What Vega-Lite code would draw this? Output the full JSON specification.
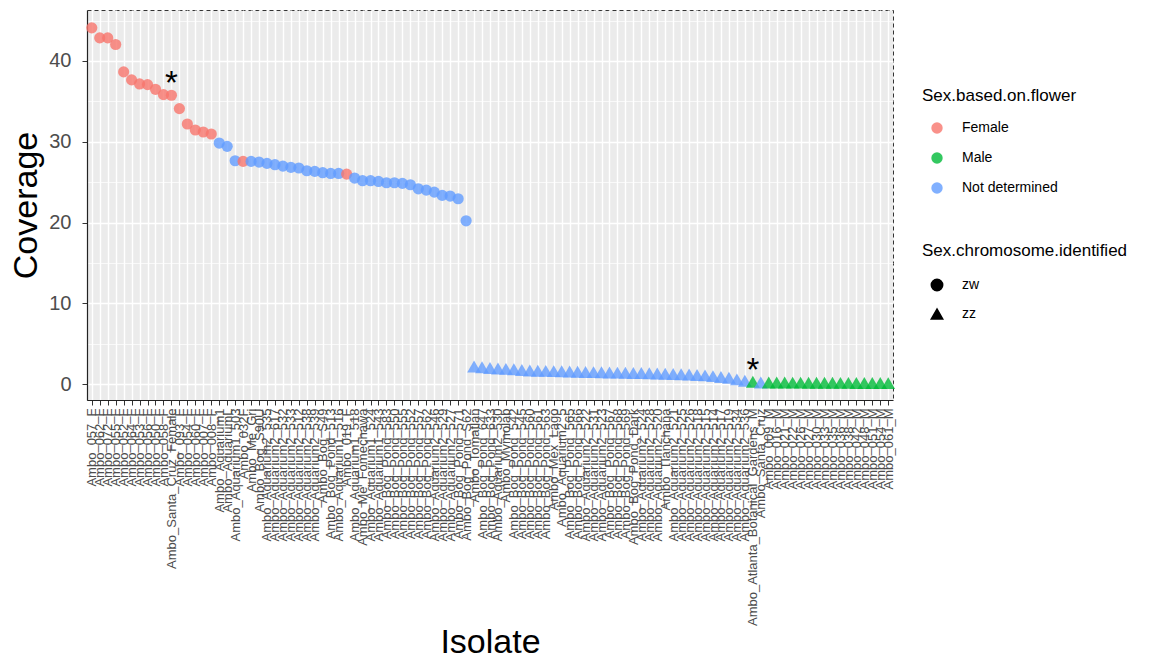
{
  "$schema": "https://vega.github.io/schema/vega-lite/v6.json",
  "autosize": {"type": "none"},
  "width": 806,
  "height": 390,
  "padding": {"left": 87, "top": 10, "right": 266, "bottom": 260},
  "background": "white",
  "config": {
    "font": "Liberation Sans",
    "view": {"fill": "#EBEBEB", "stroke": "#333333", "strokeDash": [4, 3], "strokeWidth": 1}
  },
  "data": {"values": [
    {"Isolate": "Ambo_057_F", "Coverage": 44.09, "sex": "Female", "chrom": "zw", "note": ""},
    {"Isolate": "Ambo_062_F", "Coverage": 42.85, "sex": "Female", "chrom": "zw", "note": ""},
    {"Isolate": "Ambo_072_F", "Coverage": 42.85, "sex": "Female", "chrom": "zw", "note": ""},
    {"Isolate": "Ambo_055_F", "Coverage": 42.03, "sex": "Female", "chrom": "zw", "note": ""},
    {"Isolate": "Ambo_052_F", "Coverage": 38.64, "sex": "Female", "chrom": "zw", "note": ""},
    {"Isolate": "Ambo_064_F", "Coverage": 37.65, "sex": "Female", "chrom": "zw", "note": ""},
    {"Isolate": "Ambo_053_F", "Coverage": 37.15, "sex": "Female", "chrom": "zw", "note": ""},
    {"Isolate": "Ambo_056_F", "Coverage": 37.07, "sex": "Female", "chrom": "zw", "note": ""},
    {"Isolate": "Ambo_050_F", "Coverage": 36.49, "sex": "Female", "chrom": "zw", "note": ""},
    {"Isolate": "Ambo_058_F", "Coverage": 35.83, "sex": "Female", "chrom": "zw", "note": ""},
    {"Isolate": "Ambo_Santa_Cruz_Female", "Coverage": 35.75, "sex": "Female", "chrom": "zw", "note": "*"},
    {"Isolate": "Ambo_093_F", "Coverage": 34.10, "sex": "Female", "chrom": "zw", "note": ""},
    {"Isolate": "Ambo_054_F", "Coverage": 32.20, "sex": "Female", "chrom": "zw", "note": ""},
    {"Isolate": "Ambo_060_F", "Coverage": 31.45, "sex": "Female", "chrom": "zw", "note": ""},
    {"Isolate": "Ambo_007_F", "Coverage": 31.21, "sex": "Female", "chrom": "zw", "note": ""},
    {"Isolate": "Ambo_008_F", "Coverage": 30.96, "sex": "Female", "chrom": "zw", "note": ""},
    {"Isolate": "Ambo_Aquarium1", "Coverage": 29.84, "sex": "Not determined", "chrom": "zw", "note": ""},
    {"Isolate": "Ambo_AquariumL", "Coverage": 29.43, "sex": "Not determined", "chrom": "zw", "note": ""},
    {"Isolate": "Ambo_Aquarium1_503", "Coverage": 27.65, "sex": "Not determined", "chrom": "zw", "note": ""},
    {"Isolate": "Ambo_032F", "Coverage": 27.57, "sex": "Female", "chrom": "zw", "note": ""},
    {"Isolate": "Ambo_Me_Gri", "Coverage": 27.57, "sex": "Not determined", "chrom": "zw", "note": ""},
    {"Isolate": "Ambo_Bog_S90U", "Coverage": 27.49, "sex": "Not determined", "chrom": "zw", "note": ""},
    {"Isolate": "Ambo_Aquarium2_535", "Coverage": 27.32, "sex": "Not determined", "chrom": "zw", "note": ""},
    {"Isolate": "Ambo_Aquarium2_617", "Coverage": 27.16, "sex": "Not determined", "chrom": "zw", "note": ""},
    {"Isolate": "Ambo_Aquarium2_532", "Coverage": 26.99, "sex": "Not determined", "chrom": "zw", "note": ""},
    {"Isolate": "Ambo_Aquarium2_533", "Coverage": 26.83, "sex": "Not determined", "chrom": "zw", "note": ""},
    {"Isolate": "Ambo_Aquarium2_512", "Coverage": 26.75, "sex": "Not determined", "chrom": "zw", "note": ""},
    {"Isolate": "Ambo_Aquarium2_538", "Coverage": 26.41, "sex": "Not determined", "chrom": "zw", "note": ""},
    {"Isolate": "Ambo_Aquarium2_539", "Coverage": 26.33, "sex": "Not determined", "chrom": "zw", "note": ""},
    {"Isolate": "Ambo_Bog_S49", "Coverage": 26.17, "sex": "Not determined", "chrom": "zw", "note": ""},
    {"Isolate": "Ambo_Bog_Pond_513", "Coverage": 26.08, "sex": "Not determined", "chrom": "zw", "note": ""},
    {"Isolate": "Ambo_Aquarium1_516", "Coverage": 26.08, "sex": "Not determined", "chrom": "zw", "note": ""},
    {"Isolate": "Ambo_019_F", "Coverage": 26.00, "sex": "Female", "chrom": "zw", "note": ""},
    {"Isolate": "Ambo_Aquarium1_518", "Coverage": 25.51, "sex": "Not determined", "chrom": "zw", "note": ""},
    {"Isolate": "Ambo_Me_Fomechawa", "Coverage": 25.18, "sex": "Not determined", "chrom": "zw", "note": ""},
    {"Isolate": "Ambo_Aquarium1_524", "Coverage": 25.18, "sex": "Not determined", "chrom": "zw", "note": ""},
    {"Isolate": "Ambo_Aquarium1_543", "Coverage": 25.09, "sex": "Not determined", "chrom": "zw", "note": ""},
    {"Isolate": "Ambo_Bog_Pond_583", "Coverage": 24.93, "sex": "Not determined", "chrom": "zw", "note": ""},
    {"Isolate": "Ambo_Bog_Pond_550", "Coverage": 24.93, "sex": "Not determined", "chrom": "zw", "note": ""},
    {"Isolate": "Ambo_Bog_Pond_555", "Coverage": 24.85, "sex": "Not determined", "chrom": "zw", "note": ""},
    {"Isolate": "Ambo_Bog_Pond_552", "Coverage": 24.68, "sex": "Not determined", "chrom": "zw", "note": ""},
    {"Isolate": "Ambo_Bog_Pond_557", "Coverage": 24.18, "sex": "Not determined", "chrom": "zw", "note": ""},
    {"Isolate": "Ambo_Bog_Pond_562", "Coverage": 24.02, "sex": "Not determined", "chrom": "zw", "note": ""},
    {"Isolate": "Ambo_Aquarium2_546", "Coverage": 23.77, "sex": "Not determined", "chrom": "zw", "note": ""},
    {"Isolate": "Ambo_Aquarium2_529", "Coverage": 23.36, "sex": "Not determined", "chrom": "zw", "note": ""},
    {"Isolate": "Ambo_Aquarium2_527", "Coverage": 23.28, "sex": "Not determined", "chrom": "zw", "note": ""},
    {"Isolate": "Ambo_Bog_Pond_571", "Coverage": 22.95, "sex": "Not determined", "chrom": "zw", "note": ""},
    {"Isolate": "Ambo_Bog_Pond_S62", "Coverage": 20.22, "sex": "Not determined", "chrom": "zw", "note": ""},
    {"Isolate": "Ambo_Tomatlan", "Coverage": 2.20, "sex": "Not determined", "chrom": "zz", "note": ""},
    {"Isolate": "Ambo_Bog_Pond_647", "Coverage": 2.10, "sex": "Not determined", "chrom": "zz", "note": ""},
    {"Isolate": "Ambo_Bog_Pond_633", "Coverage": 2.00, "sex": "Not determined", "chrom": "zz", "note": ""},
    {"Isolate": "Ambo_Aquarium2_530", "Coverage": 1.95, "sex": "Not determined", "chrom": "zz", "note": ""},
    {"Isolate": "Ambo_Mymolab", "Coverage": 1.90, "sex": "Not determined", "chrom": "zz", "note": ""},
    {"Isolate": "Ambo_Bog_Pond_542", "Coverage": 1.85, "sex": "Not determined", "chrom": "zz", "note": ""},
    {"Isolate": "Ambo_Bog_Pond_545", "Coverage": 1.75, "sex": "Not determined", "chrom": "zz", "note": ""},
    {"Isolate": "Ambo_Bog_Pond_560", "Coverage": 1.70, "sex": "Not determined", "chrom": "zz", "note": ""},
    {"Isolate": "Ambo_Bog_Pond_561", "Coverage": 1.68, "sex": "Not determined", "chrom": "zz", "note": ""},
    {"Isolate": "Ambo_Bog_Pond_563", "Coverage": 1.65, "sex": "Not determined", "chrom": "zz", "note": ""},
    {"Isolate": "Ambo_Mex_Lago", "Coverage": 1.62, "sex": "Not determined", "chrom": "zz", "note": ""},
    {"Isolate": "Ambo_Aquarium2_5", "Coverage": 1.60, "sex": "Not determined", "chrom": "zz", "note": ""},
    {"Isolate": "Ambo_Bog_Pond_565", "Coverage": 1.58, "sex": "Not determined", "chrom": "zz", "note": ""},
    {"Isolate": "Ambo_Bog_Pond_566", "Coverage": 1.55, "sex": "Not determined", "chrom": "zz", "note": ""},
    {"Isolate": "Ambo_Aquarium2_522", "Coverage": 1.52, "sex": "Not determined", "chrom": "zz", "note": ""},
    {"Isolate": "Ambo_Aquarium2_531", "Coverage": 1.50, "sex": "Not determined", "chrom": "zz", "note": ""},
    {"Isolate": "Ambo_Aquarium2_523", "Coverage": 1.48, "sex": "Not determined", "chrom": "zz", "note": ""},
    {"Isolate": "Ambo_Bog_Pond_567", "Coverage": 1.46, "sex": "Not determined", "chrom": "zz", "note": ""},
    {"Isolate": "Ambo_Bog_Pond_568", "Coverage": 1.44, "sex": "Not determined", "chrom": "zz", "note": ""},
    {"Isolate": "Ambo_Bog_Pond_569", "Coverage": 1.42, "sex": "Not determined", "chrom": "zz", "note": ""},
    {"Isolate": "Ambo_Bog_Pond_Dark", "Coverage": 1.40, "sex": "Not determined", "chrom": "zz", "note": ""},
    {"Isolate": "Ambo_Aquarium2_524", "Coverage": 1.38, "sex": "Not determined", "chrom": "zz", "note": ""},
    {"Isolate": "Ambo_Aquarium2_528", "Coverage": 1.35, "sex": "Not determined", "chrom": "zz", "note": ""},
    {"Isolate": "Ambo_Aquarium2_520", "Coverage": 1.32, "sex": "Not determined", "chrom": "zz", "note": ""},
    {"Isolate": "Ambo_Tlanchana", "Coverage": 1.30, "sex": "Not determined", "chrom": "zz", "note": ""},
    {"Isolate": "Ambo_Aquarium2_521", "Coverage": 1.27, "sex": "Not determined", "chrom": "zz", "note": ""},
    {"Isolate": "Ambo_Aquarium2_525", "Coverage": 1.24, "sex": "Not determined", "chrom": "zz", "note": ""},
    {"Isolate": "Ambo_Aquarium2_526", "Coverage": 1.20, "sex": "Not determined", "chrom": "zz", "note": ""},
    {"Isolate": "Ambo_Aquarium2_518", "Coverage": 1.15, "sex": "Not determined", "chrom": "zz", "note": ""},
    {"Isolate": "Ambo_Aquarium2_515", "Coverage": 1.10, "sex": "Not determined", "chrom": "zz", "note": ""},
    {"Isolate": "Ambo_Aquarium2_514", "Coverage": 1.00, "sex": "Not determined", "chrom": "zz", "note": ""},
    {"Isolate": "Ambo_Aquarium2_517", "Coverage": 0.90, "sex": "Not determined", "chrom": "zz", "note": ""},
    {"Isolate": "Ambo_Aquarium2_519", "Coverage": 0.80, "sex": "Not determined", "chrom": "zz", "note": ""},
    {"Isolate": "Ambo_Aquarium2_534", "Coverage": 0.60, "sex": "Not determined", "chrom": "zz", "note": ""},
    {"Isolate": "Ambo_Aquarium2_536", "Coverage": 0.42, "sex": "Not determined", "chrom": "zz", "note": ""},
    {"Isolate": "Ambo_Atlanta_Botanical_Gardens_M", "Coverage": 0.30, "sex": "Male", "chrom": "zz", "note": "*"},
    {"Isolate": "Ambo_Santa_Cruz", "Coverage": 0.22, "sex": "Not determined", "chrom": "zz", "note": ""},
    {"Isolate": "Ambo_009_M", "Coverage": 0.22, "sex": "Male", "chrom": "zz", "note": ""},
    {"Isolate": "Ambo_016_M", "Coverage": 0.21, "sex": "Male", "chrom": "zz", "note": ""},
    {"Isolate": "Ambo_021_M", "Coverage": 0.21, "sex": "Male", "chrom": "zz", "note": ""},
    {"Isolate": "Ambo_022_M", "Coverage": 0.20, "sex": "Male", "chrom": "zz", "note": ""},
    {"Isolate": "Ambo_026_M", "Coverage": 0.20, "sex": "Male", "chrom": "zz", "note": ""},
    {"Isolate": "Ambo_027_M", "Coverage": 0.19, "sex": "Male", "chrom": "zz", "note": ""},
    {"Isolate": "Ambo_030_M", "Coverage": 0.19, "sex": "Male", "chrom": "zz", "note": ""},
    {"Isolate": "Ambo_033_M", "Coverage": 0.18, "sex": "Male", "chrom": "zz", "note": ""},
    {"Isolate": "Ambo_035_M", "Coverage": 0.18, "sex": "Male", "chrom": "zz", "note": ""},
    {"Isolate": "Ambo_036_M", "Coverage": 0.17, "sex": "Male", "chrom": "zz", "note": ""},
    {"Isolate": "Ambo_038_M", "Coverage": 0.17, "sex": "Male", "chrom": "zz", "note": ""},
    {"Isolate": "Ambo_042_M", "Coverage": 0.16, "sex": "Male", "chrom": "zz", "note": ""},
    {"Isolate": "Ambo_048_M", "Coverage": 0.16, "sex": "Male", "chrom": "zz", "note": ""},
    {"Isolate": "Ambo_051_M", "Coverage": 0.15, "sex": "Male", "chrom": "zz", "note": ""},
    {"Isolate": "Ambo_054_M", "Coverage": 0.15, "sex": "Male", "chrom": "zz", "note": ""},
    {"Isolate": "Ambo_061_M", "Coverage": 0.14, "sex": "Male", "chrom": "zz", "note": ""}
  ]},
  "encoding": {
    "x": {
      "field": "Isolate", "type": "nominal", "sort": null,
      "scale": {"type": "point", "padding": 0.6},
      "axis": {
        "title": "Isolate", "titleFontSize": 34, "titleFontWeight": "normal", "titleColor": "#000000",
        "titleBaseline": "alphabetic", "titleY": 252,
        "labelAngle": -90, "labelFontSize": 13, "labelColor": "#4D4D4D", "labelPadding": 3, "labelOverlap": false,
        "labelBound": false, "labelFlush": false, "labelLimit": 400,
        "ticks": true, "tickSize": 5, "tickColor": "#333333", "tickWidth": 1,
        "domain": true, "domainColor": "#222222", "domainWidth": 1.2,
        "grid": true, "gridColor": "#FFFFFF", "gridWidth": 1.4
      }
    },
    "y": {
      "field": "Coverage", "type": "quantitative",
      "scale": {"domain": [-1.95, 46.3], "nice": false, "zero": false},
      "axis": {
        "title": "Coverage", "titleFontSize": 34, "titleFontWeight": "normal", "titleColor": "#000000",
        "titleBaseline": "alphabetic", "titleX": -51,
        "values": [0, 5, 10, 15, 20, 25, 30, 35, 40, 45],
        "labelExpr": "datum.value % 10 === 0 ? datum.label : ''",
        "labelFontSize": 20, "labelColor": "#4D4D4D", "labelPadding": 11,
        "tickSize": 5, "tickColor": "#333333", "tickWidth": 1,
        "tickOpacity": {"condition": {"test": "datum.value % 10 === 0", "value": 1}, "value": 0},
        "domain": true, "domainColor": "#222222", "domainWidth": 1.2,
        "grid": true, "gridColor": "#FFFFFF",
        "gridWidth": {"condition": {"test": "datum.value % 10 === 0", "value": 1.4}, "value": 0.7}
      }
    }
  },
  "layer": [
    {
      "mark": {"type": "point", "filled": true, "opacity": 0.8},
      "encoding": {
        "color": {
          "field": "sex", "type": "nominal",
          "scale": {"domain": ["Female", "Male", "Not determined"], "range": ["#F8766D", "#00BA38", "#619CFF"]},
          "legend": {
            "title": "Sex.based.on.flower", "orient": "none", "legendX": 835, "legendY": 78,
            "titleFontSize": 17, "titleFontWeight": "normal", "titleColor": "#000000", "titlePadding": 16, "titleLimit": 400,
            "labelFontSize": 14, "labelColor": "#000000", "labelOffset": 18, "labelLimit": 300,
            "symbolType": "circle", "symbolSize": 130, "symbolOpacity": 0.8, "symbolOffset": 8,
            "rowPadding": 16, "padding": 0
          }
        },
        "shape": {
          "field": "chrom", "type": "nominal",
          "scale": {"domain": ["zw", "zz"], "range": ["circle", "triangle-up"]},
          "legend": {
            "title": "Sex.chromosome.identified", "orient": "none", "legendX": 835, "legendY": 233,
            "titleFontSize": 17, "titleFontWeight": "normal", "titleColor": "#000000", "titlePadding": 18, "titleLimit": 400,
            "labelFontSize": 14, "labelColor": "#000000", "labelOffset": 18, "labelLimit": 300,
            "symbolSize": 130, "symbolFillColor": "#000000", "symbolStrokeColor": "#000000", "symbolOpacity": 1, "symbolOffset": 8,
            "rowPadding": 12, "padding": 0
          }
        },
        "size": {"condition": {"test": "datum.chrom === 'zz'", "value": 190}, "value": 125}
      }
    },
    {
      "transform": [{"filter": "datum.note === '*'"}],
      "mark": {"type": "text", "fontSize": 33, "baseline": "alphabetic", "dy": -1, "color": "#000000"},
      "encoding": {"text": {"field": "note"}}
    }
  ]
}
